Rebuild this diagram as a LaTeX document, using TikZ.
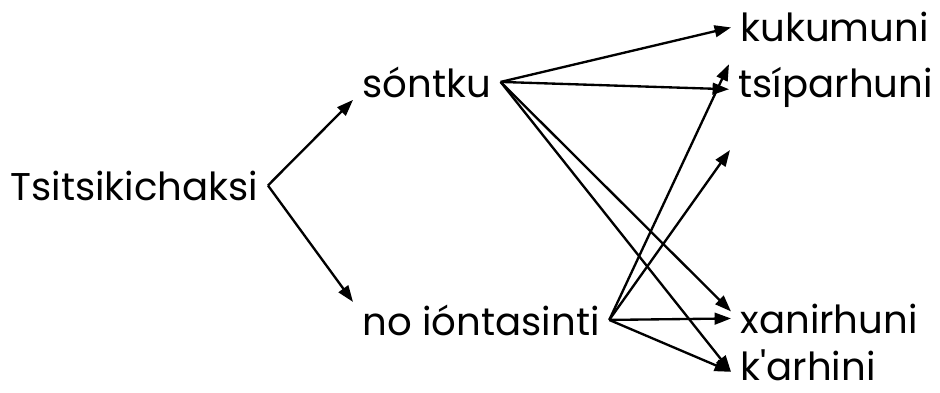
\documentclass[tikz,border=0pt]{standalone}
\usepackage{fontspec}
\setmainfont{Poppins}
\usetikzlibrary{arrows.meta}

\begin{document}
\begin{tikzpicture}[x=0.03cm, y=-0.03cm, >={Triangle[length=14pt,width=10pt]},
  word/.style={anchor=base west, inner xsep=8pt, inner ysep=2pt, font=\fontsize{33}{37}\selectfont},
  link/.style={->, line width=2pt}]
\useasboundingbox (0,0) rectangle (940,393);
% Define nodes for the words
\node[word] (tsi) at (1,200) {Tsitsikichaksi};
\node[word] (son) at (353,97) {sóntku};
\node[word] (nio) at (353,335) {no ióntasinti};
\node[word] (kuk) at (731,42) {kukumuni};
\node[word] (tsp) at (729,97) {tsíparhuni};
\node[word] (xan) at (731,333) {xanirhuni};
\node[word] (kar) at (731,380) {k\textquotesingle arhini};
\coordinate (gap) at (730,150); % arrow with no word at its end

% First split
\draw[link] (tsi.east) -- (son.south west);
\draw[link] (tsi.east) -- (nio.north west);

% Arrows from the upper word
\draw[link] (son.east) -- (kuk.west);
\draw[link] (son.east) -- ([yshift=-2pt]tsp.west);
\draw[link] (son.east) -- ([yshift=6pt]xan.west);
\draw[link] (son.east) -- ([yshift=-6pt]kar.west);

% Arrows from the lower word
\draw[link] (nio.east) -- (tsp.north west);
\draw[link] (nio.east) -- (gap);
\draw[link] (nio.east) -- (xan.west);
\draw[link] (nio.east) -- ([yshift=-6pt]kar.west);
\end{tikzpicture}
\end{document}
